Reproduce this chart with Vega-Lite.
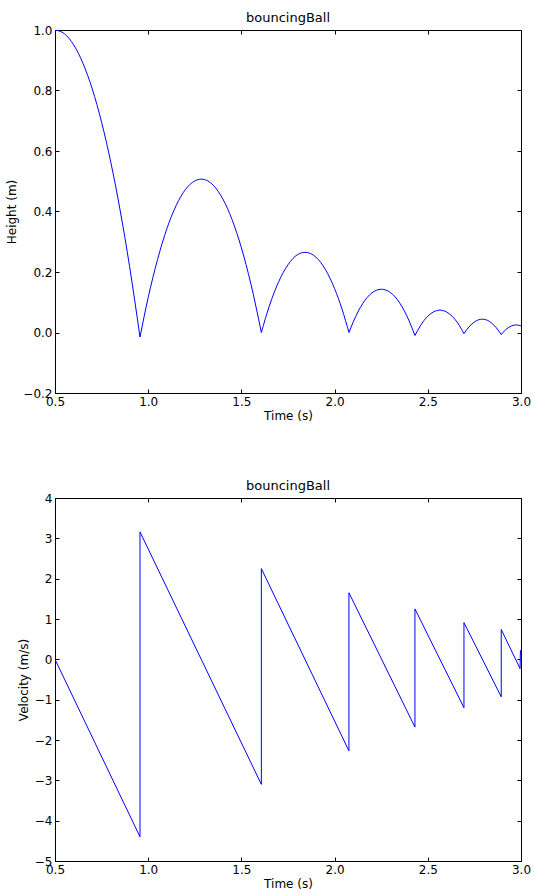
{
  "$schema": "https://vega.github.io/schema/vega-lite/v6.json",
  "padding": {"left": 5, "top": 11, "right": 5, "bottom": 2},
  "spacing": 57,
  "config": {
    "font": "DejaVu Sans",
    "view": {"stroke": "black", "strokeWidth": 1},
    "axis": {"grid": false, "domainColor": "black", "tickColor": "black", "labelColor": "black", "titleColor": "black", "labelFont": "DejaVu Sans", "titleFont": "DejaVu Sans", "labelFontSize": 12, "titleFontSize": 12, "titleFontWeight": "normal", "tickSize": -4, "labelPadding": 7, "domainWidth": 1, "labelFlush": false},
    "title": {"font": "DejaVu Sans", "fontSize": 13, "fontWeight": "normal", "color": "black", "offset": -1}
  },
  "datasets": {
    "height": [
      {"t": 0.5, "h": 1.0, "seg": 0}, {"t": 0.55, "h": 0.988, "seg": 0}, {"t": 0.6, "h": 0.951, "seg": 0}, {"t": 0.65, "h": 0.89, "seg": 0}, {"t": 0.7, "h": 0.805, "seg": 0}, {"t": 0.75, "h": 0.695, "seg": 0}, {"t": 0.8, "h": 0.561, "seg": 0}, {"t": 0.85, "h": 0.402, "seg": 0}, {"t": 0.9, "h": 0.219, "seg": 0}, {"t": 0.956, "h": -0.015, "seg": 0},
      {"t": 0.956, "h": -0.015, "seg": 1}, {"t": 1.0, "h": 0.116, "seg": 1}, {"t": 1.05, "h": 0.241, "seg": 1}, {"t": 1.1, "h": 0.343, "seg": 1}, {"t": 1.15, "h": 0.42, "seg": 1}, {"t": 1.2, "h": 0.473, "seg": 1}, {"t": 1.25, "h": 0.501, "seg": 1}, {"t": 1.284, "h": 0.507, "seg": 1}, {"t": 1.32, "h": 0.501, "seg": 1}, {"t": 1.35, "h": 0.486, "seg": 1}, {"t": 1.4, "h": 0.442, "seg": 1}, {"t": 1.45, "h": 0.373, "seg": 1}, {"t": 1.5, "h": 0.28, "seg": 1}, {"t": 1.55, "h": 0.163, "seg": 1}, {"t": 1.607, "h": 0.0, "seg": 1},
      {"t": 1.607, "h": 0.0, "seg": 2}, {"t": 1.65, "h": 0.088, "seg": 2}, {"t": 1.7, "h": 0.168, "seg": 2}, {"t": 1.75, "h": 0.224, "seg": 2}, {"t": 1.8, "h": 0.257, "seg": 2}, {"t": 1.842, "h": 0.265, "seg": 2}, {"t": 1.9, "h": 0.249, "seg": 2}, {"t": 1.95, "h": 0.209, "seg": 2}, {"t": 2.0, "h": 0.145, "seg": 2}, {"t": 2.04, "h": 0.077, "seg": 2}, {"t": 2.077, "h": 0.0, "seg": 2},
      {"t": 2.077, "h": 0.0, "seg": 3}, {"t": 2.1, "h": 0.035, "seg": 3}, {"t": 2.15, "h": 0.095, "seg": 3}, {"t": 2.2, "h": 0.131, "seg": 3}, {"t": 2.251, "h": 0.143, "seg": 3}, {"t": 2.3, "h": 0.132, "seg": 3}, {"t": 2.35, "h": 0.097, "seg": 3}, {"t": 2.4, "h": 0.038, "seg": 3}, {"t": 2.431, "h": -0.01, "seg": 3},
      {"t": 2.431, "h": -0.01, "seg": 4}, {"t": 2.46, "h": 0.022, "seg": 4}, {"t": 2.5, "h": 0.054, "seg": 4}, {"t": 2.53, "h": 0.068, "seg": 4}, {"t": 2.565, "h": 0.074, "seg": 4}, {"t": 2.6, "h": 0.068, "seg": 4}, {"t": 2.63, "h": 0.054, "seg": 4}, {"t": 2.66, "h": 0.032, "seg": 4}, {"t": 2.694, "h": -0.004, "seg": 4},
      {"t": 2.694, "h": -0.004, "seg": 5}, {"t": 2.72, "h": 0.018, "seg": 5}, {"t": 2.75, "h": 0.035, "seg": 5}, {"t": 2.7925, "h": 0.044, "seg": 5}, {"t": 2.83, "h": 0.037, "seg": 5}, {"t": 2.86, "h": 0.021, "seg": 5}, {"t": 2.894, "h": -0.007, "seg": 5},
      {"t": 2.894, "h": -0.007, "seg": 6}, {"t": 2.92, "h": 0.0105, "seg": 6}, {"t": 2.95, "h": 0.022, "seg": 6}, {"t": 2.975, "h": 0.025, "seg": 6}, {"t": 3.0, "h": 0.022, "seg": 6}
    ],
    "velocity": [
      {"i": 0, "t": 0.5, "v": 0.0}, {"i": 1, "t": 0.956, "v": -4.4}, {"i": 2, "t": 0.956, "v": 3.16}, {"i": 3, "t": 1.607, "v": -3.1}, {"i": 4, "t": 1.607, "v": 2.25}, {"i": 5, "t": 2.077, "v": -2.27}, {"i": 6, "t": 2.077, "v": 1.65}, {"i": 7, "t": 2.431, "v": -1.68}, {"i": 8, "t": 2.431, "v": 1.25}, {"i": 9, "t": 2.694, "v": -1.2}, {"i": 10, "t": 2.694, "v": 0.91}, {"i": 11, "t": 2.894, "v": -0.93}, {"i": 12, "t": 2.894, "v": 0.74}, {"i": 13, "t": 2.995, "v": -0.23}, {"i": 14, "t": 2.997, "v": 0.22}, {"i": 15, "t": 3.0, "v": 0.19}
    ]
  },
  "vconcat": [
    {
      "title": "bouncingBall",
      "width": 466,
      "height": 363,
      "data": {"name": "height"},
      "resolve": {"axis": {"x": "independent", "y": "independent"}},
      "layer": [
        {
          "mark": {"type": "line", "color": "#0000ff", "strokeWidth": 1, "interpolate": "monotone", "clip": true},
          "encoding": {
            "x": {"field": "t", "type": "quantitative", "scale": {"domain": [0.5, 3.0], "nice": false, "zero": false}, "axis": {"title": "Time (s)", "values": [0.5, 1.0, 1.5, 2.0, 2.5, 3.0], "format": ".1f", "titlePadding": 3}},
            "y": {"field": "h", "type": "quantitative", "scale": {"domain": [-0.2, 1.0], "nice": false, "zero": false}, "axis": {"title": "Height (m)", "values": [-0.2, 0.0, 0.2, 0.4, 0.6, 0.8, 1.0], "format": ".1f"}},
            "detail": {"field": "seg", "type": "nominal"}
          }
        },
        {
          "mark": {"type": "line", "strokeOpacity": 0, "clip": true},
          "encoding": {
            "x": {"field": "t", "type": "quantitative", "axis": {"orient": "top", "labels": false, "title": null, "domain": false, "values": [0.5, 1.0, 1.5, 2.0, 2.5, 3.0]}},
            "y": {"field": "h", "type": "quantitative", "axis": {"orient": "right", "labels": false, "title": null, "domain": false, "values": [-0.2, 0.0, 0.2, 0.4, 0.6, 0.8, 1.0]}},
            "detail": {"field": "seg", "type": "nominal"}
          }
        }
      ]
    },
    {
      "title": "bouncingBall",
      "width": 466,
      "height": 363,
      "data": {"name": "velocity"},
      "resolve": {"axis": {"x": "independent", "y": "independent"}},
      "layer": [
        {
          "mark": {"type": "line", "color": "#0000ff", "strokeWidth": 1, "clip": true},
          "encoding": {
            "x": {"field": "t", "type": "quantitative", "scale": {"domain": [0.5, 3.0], "nice": false, "zero": false}, "axis": {"title": "Time (s)", "values": [0.5, 1.0, 1.5, 2.0, 2.5, 3.0], "format": ".1f", "titlePadding": 3}},
            "y": {"field": "v", "type": "quantitative", "scale": {"domain": [-5, 4], "nice": false, "zero": false}, "axis": {"title": "Velocity (m/s)", "values": [-5, -4, -3, -2, -1, 0, 1, 2, 3, 4], "format": "d"}},
            "order": {"field": "i", "type": "quantitative"}
          }
        },
        {
          "mark": {"type": "line", "strokeOpacity": 0, "clip": true},
          "encoding": {
            "x": {"field": "t", "type": "quantitative", "axis": {"orient": "top", "labels": false, "title": null, "domain": false, "values": [0.5, 1.0, 1.5, 2.0, 2.5, 3.0]}},
            "y": {"field": "v", "type": "quantitative", "axis": {"orient": "right", "labels": false, "title": null, "domain": false, "values": [-5, -4, -3, -2, -1, 0, 1, 2, 3, 4]}},
            "order": {"field": "i", "type": "quantitative"}
          }
        }
      ]
    }
  ]
}
